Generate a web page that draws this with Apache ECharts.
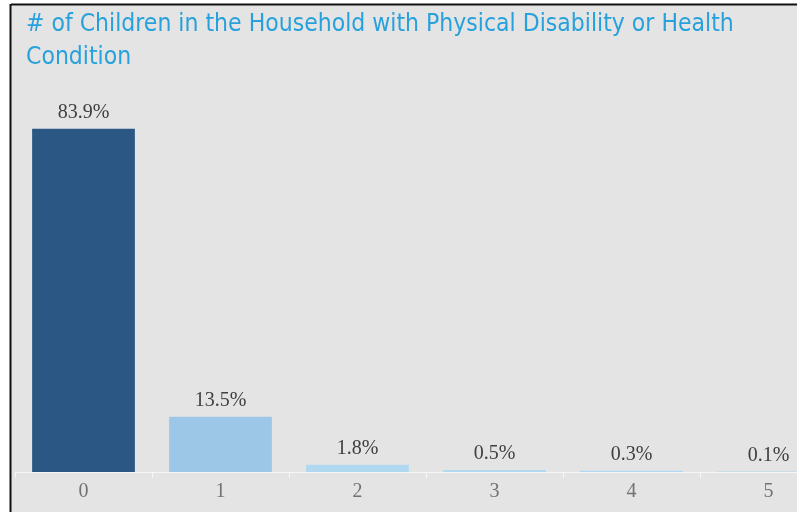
<!DOCTYPE html>
<html><head><meta charset="utf-8">
<script src="https://cdn.jsdelivr.net/npm/echarts@6/dist/echarts.min.js"></script>
<style>html,body{margin:0;padding:0;background:#fff}#c{width:797px;height:512px}</style>
</head><body><div id="c"></div>
<script>
const categories = ['0','1','2','3','4','5'];
const values = [83.9, 13.5, 1.8, 0.5, 0.3, 0.1];
const barColors = ['#2b5784','#9cc7e6','#b0d8f0','#b0d8f0','#b0d8f0','#b0d8f0'];
const titleText = '# of Children in the Household with Physical Disability or Health\nCondition';

const chart = echarts.init(document.getElementById('c'), null, {renderer:'canvas'});
chart.setOption({
  backgroundColor: '#ffffff',
  animation: false,
  graphic: [
    {type:'rect', z:-10, shape:{x:11, y:5, width:800, height:520}, style:{fill:'#e4e4e4'}},
    {type:'line', z:-5, shape:{x1:11, y1:4.5, x2:800, y2:4.5}, style:{stroke:'#111', lineWidth:2}},
    {type:'line', z:-5, shape:{x1:10.5, y1:4, x2:10.5, y2:520}, style:{stroke:'#111', lineWidth:2}}
  ],
  title: {
    text: titleText, left: 21, top: 3,
    textStyle: {fontFamily:"'DejaVu Sans Condensed', 'Liberation Sans Narrow', Roboto, sans-serif", fontSize:24.5, fontWeight:'normal', color:'#27a1dc', lineHeight:33}
  },
  grid: {left:15, width:822, top:63, bottom:40, containLabel:false, outerBoundsMode:'none'},
  xAxis: {
    type:'category', data: categories,
    axisLine:{show:true, lineStyle:{color:'#f7f7f7', width:1}},
    axisTick:{show:true, length:6, lineStyle:{color:'#f7f7f7'}},
    axisLabel:{fontFamily:"'Liberation Serif', serif", fontSize:20, color:'#727272', margin:10}
  },
  yAxis: {type:'value', min:0, max:100, show:false, splitLine:{show:false}},
  series: [{
    type:'bar', barWidth:'75%',
    data: values.map((v,i)=>({value:v, itemStyle:{color:barColors[i]}})),
    label:{show:true, position:'top', distance:6, formatter: p => p.value.toFixed(1)+'%',
      fontFamily:"'Liberation Serif', serif", fontSize:20, color:'#3f3f3f'}
  }]
});
</script></body></html>
